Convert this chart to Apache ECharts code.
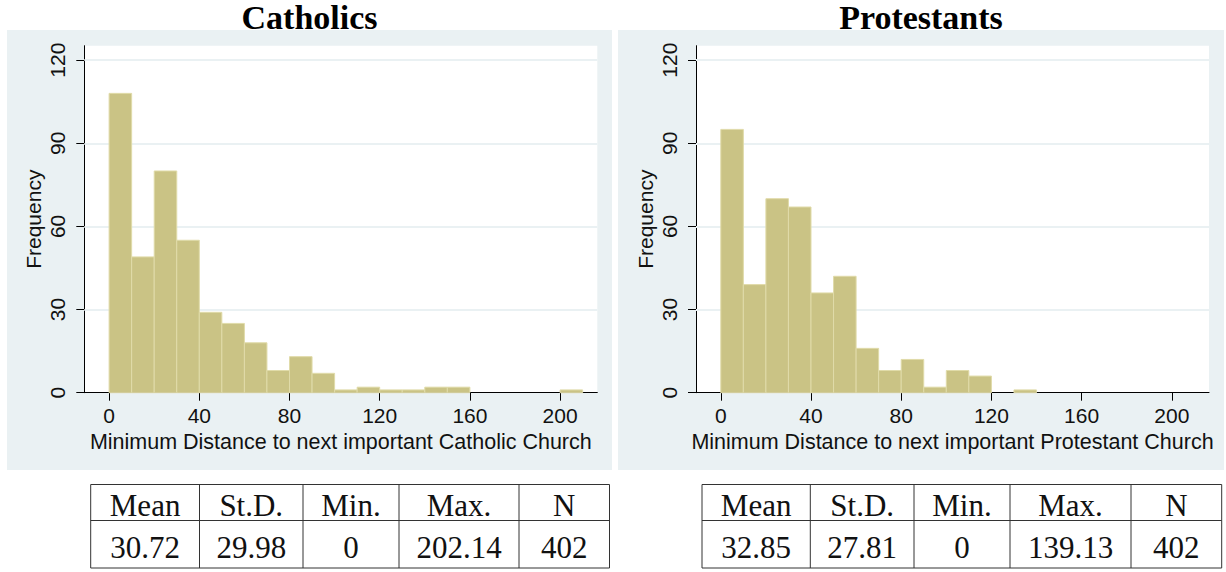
<!DOCTYPE html>
<html>
<head>
<meta charset="utf-8">
<script src="https://cdn.jsdelivr.net/npm/echarts@6/dist/echarts.min.js"></script>
<style>
  html, body { margin: 0; padding: 0; background: #ffffff; }
  #chart { width: 1226px; height: 572px; }
</style>
</head>
<body>
<div id="chart"></div>
<script>
// Histogram bins (distance, lower/upper edges) and frequencies per bin
const binEdges = [0, 10, 20, 30, 40, 50, 60, 70, 80, 90, 100, 110, 120, 130, 140, 150, 160, 170, 180, 190, 200, 210];
const catholicCounts   = [108, 49, 80, 55, 29, 25, 18, 8, 13, 7, 1, 2, 1, 1, 2, 2, 0, 0, 0, 0, 1];
const protestantCounts = [95, 39, 70, 67, 36, 42, 16, 8, 12, 2, 8, 6, 0, 1, 0, 0, 0, 0, 0, 0, 0];

// Axis ticks
const xTicks = [0, 40, 80, 120, 160, 200];
const yTicks = [0, 30, 60, 90, 120];
const yGridValues = [30, 60, 90, 120];

// Texts
const panelTitles = ['Catholics', 'Protestants'];
const xAxisTitles = [
  'Minimum Distance to next important Catholic Church',
  'Minimum Distance to next important Protestant Church'
];
const yAxisTitle = 'Frequency';

// Summary statistics shown below each histogram
const statHeaders = ['Mean', 'St.D.', 'Min.', 'Max.', 'N'];
const catholicStats = ['30.72', '29.98', '0', '202.14', '402'];
const protestantStats = ['32.85', '27.81', '0', '139.13', '402'];

// ---- layout and style ----
const BG = '#eaf1f3';
const BAR_FILL = '#cac385';
const BAR_EDGE = '#e0dba9';
const SANS = '"Liberation Sans", Arial, Helvetica, sans-serif';
const SERIF = '"Liberation Serif", "Times New Roman", serif';

const panels = [
  { bg: [7, 30, 605, 440], grid: { left: 84.3, top: 45.7, width: 513, height: 347 },
    titleX: 309.5, cols: [90.7, 199.5, 303, 399, 519, 609.5] },
  { bg: [618, 30, 606, 440], grid: { left: 696, top: 45.7, width: 513, height: 347 },
    titleX: 921, cols: [702, 810.3, 914, 1010, 1131, 1221.7] }
];
const tableRows = [484.5, 520.5, 568];
const tableTextY = [505.5, 547];

const countsList = [catholicCounts, protestantCounts];
const statsList = [catholicStats, protestantStats];

function binData(counts) {
  const out = [];
  for (let i = 0; i < counts.length; i++) {
    if (counts[i] > 0) out.push([binEdges[i], binEdges[i + 1], counts[i]]);
  }
  return out;
}

function renderBar(params, api) {
  const p0 = api.coord([api.value(0), api.value(2)]);
  const p1 = api.coord([api.value(1), 0]);
  return {
    type: 'rect',
    shape: { x: p0[0], y: p0[1], width: p1[0] - p0[0], height: p1[1] - p0[1] },
    style: { fill: BAR_FILL, stroke: BAR_EDGE, lineWidth: 1 }
  };
}

const grids = [], xAxes = [], yAxes = [], series = [], graphics = [];

panels.forEach((p, k) => {
  grids.push(Object.assign({ show: true, backgroundColor: '#ffffff', borderWidth: 0 }, p.grid));

  xAxes.push({
    type: 'value', gridIndex: k, min: -11, max: 216.5,
    name: xAxisTitles[k], nameLocation: 'middle', nameGap: 35,
    nameTextStyle: { fontFamily: SANS, fontSize: 21.5, color: '#111' },
    axisLine: { show: true, onZero: false, lineStyle: { color: '#000', width: 1 } },
    axisTick: { show: true, length: 8, customValues: xTicks, lineStyle: { color: '#000', width: 1 } },
    axisLabel: { customValues: xTicks, margin: 12, fontFamily: SANS, fontSize: 21, color: '#111' },
    splitLine: { show: false }
  });

  yAxes.push({
    type: 'value', gridIndex: k, min: 0, max: 125.2,
    name: yAxisTitle, nameLocation: 'middle', nameGap: 40, nameRotate: 90,
    nameTextStyle: { fontFamily: SANS, fontSize: 21, color: '#111' },
    axisLine: { show: true, onZero: false, lineStyle: { color: '#000', width: 1 } },
    axisTick: { show: true, length: 8, customValues: yTicks, lineStyle: { color: '#000', width: 1 } },
    axisLabel: { customValues: yTicks, rotate: 90, margin: 16, fontFamily: SANS, fontSize: 21, color: '#111' },
    splitLine: { show: false }
  });

  // horizontal reference lines, kept underneath the bars
  series.push({
    type: 'line', xAxisIndex: k, yAxisIndex: k, data: [], z: 1, silent: true,
    markLine: {
      z: 1, silent: true, symbol: 'none', animation: false,
      label: { show: false },
      lineStyle: { color: BG, width: 2, type: 'solid' },
      data: yGridValues.map(v => ({ yAxis: v }))
    }
  });

  series.push({
    type: 'custom', xAxisIndex: k, yAxisIndex: k, z: 3,
    renderItem: renderBar, encode: { x: [0, 1], y: 2 },
    data: binData(countsList[k]), animation: false
  });

  // panel background
  graphics.push({
    type: 'rect', z: -10, silent: true,
    shape: { x: p.bg[0], y: p.bg[1], width: p.bg[2], height: p.bg[3] },
    style: { fill: BG }
  });

  // panel title
  graphics.push({
    type: 'text', x: p.titleX, y: 17, silent: true,
    style: { text: panelTitles[k], font: 'bold 34px ' + SERIF, fill: '#000',
             textAlign: 'center', textVerticalAlign: 'middle' }
  });

  // statistics table: rules
  const c = p.cols;
  tableRows.forEach(y => {
    graphics.push({ type: 'line', silent: true,
      shape: { x1: c[0], y1: y, x2: c[c.length - 1], y2: y },
      style: { stroke: '#333', lineWidth: 1 } });
  });
  c.forEach(x => {
    graphics.push({ type: 'line', silent: true,
      shape: { x1: x, y1: tableRows[0], x2: x, y2: tableRows[tableRows.length - 1] },
      style: { stroke: '#333', lineWidth: 1 } });
  });
  // statistics table: cells
  [statHeaders, statsList[k]].forEach((row, r) => {
    row.forEach((txt, j) => {
      graphics.push({ type: 'text', silent: true,
        x: (c[j] + c[j + 1]) / 2, y: tableTextY[r],
        style: { text: txt, font: '31px ' + SERIF, fill: '#111',
                 textAlign: 'center', textVerticalAlign: 'middle' } });
    });
  });
});

const chart = echarts.init(document.getElementById('chart'), null, { renderer: 'svg' });
chart.setOption({
  animation: false,
  backgroundColor: '#ffffff',
  grid: grids,
  xAxis: xAxes,
  yAxis: yAxes,
  series: series,
  graphic: { elements: graphics }
});
</script>
</body>
</html>
